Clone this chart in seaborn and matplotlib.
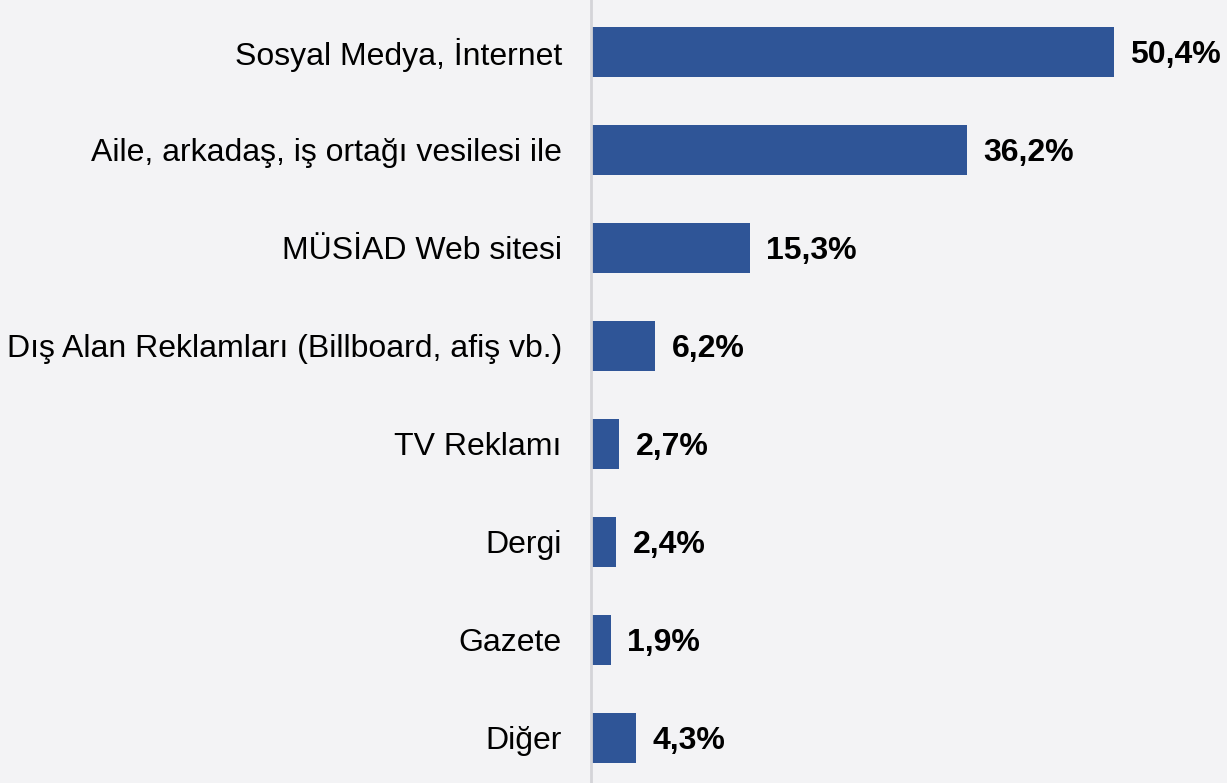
import matplotlib.pyplot as plt
import seaborn as sns
import pandas as pd

categories = [
    "Sosyal Medya, İnternet",
    "Aile, arkadaş, iş ortağı vesilesi ile",
    "MÜSİAD Web sitesi",
    "Dış Alan Reklamları (Billboard, afiş vb.)",
    "TV Reklamı",
    "Dergi",
    "Gazete",
    "Diğer",
]
values = [50.4, 36.2, 15.3, 6.2, 2.7, 2.4, 1.9, 4.3]
value_labels = ["50,4%", "36,2%", "15,3%", "6,2%", "2,7%", "2,4%", "1,9%", "4,3%"]

df = pd.DataFrame({"kanal": categories, "oran": values})

sns.set_style("white")
plt.rcParams["font.family"] = ["Liberation Sans", "DejaVu Sans"]

bg = "#f3f3f5"
fig = plt.figure(figsize=(12.27, 7.83), dpi=100, facecolor=bg)
ax = fig.add_axes([591 / 1227, 0, 636 / 1227, 1])
ax.set_facecolor(bg)

sns.barplot(data=df, x="oran", y="kanal", orient="h", color="#2f5597",
            saturation=1, width=0.51, linewidth=0, ax=ax)

ax.set_xlim(0, 61.3)
ax.set_ylim(7.46, -0.53)

for i, (v, lab) in enumerate(zip(values, value_labels)):
    ax.text(v + 1.6, i, lab, va="center_baseline", ha="left", fontsize=23,
            fontweight="bold", color="black")

ax.set_xlabel("")
ax.set_ylabel("")
ax.set_xticks([])
ax.tick_params(axis="y", length=0, pad=21, labelsize=23, labelcolor="black")
for s in ["top", "right", "bottom"]:
    ax.spines[s].set_visible(False)
ax.spines["left"].set_color("#d4d4d8")
ax.spines["left"].set_linewidth(2)

fig.savefig("out.png", dpi=100, facecolor=bg)
